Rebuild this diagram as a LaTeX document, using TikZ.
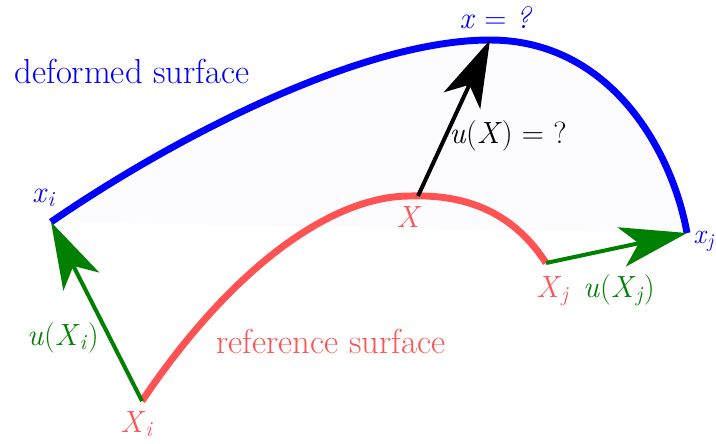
\documentclass[tikz,border=0pt]{standalone}
\usepackage{fontspec}
\usetikzlibrary{arrows.meta}
\definecolor{defblue}{RGB}{0,0,255}
\definecolor{refred}{RGB}{255,82,82}
\definecolor{dispgreen}{RGB}{0,128,0}
\newcommand{\iv}[1]{\textit{#1}}
\begin{document}
\begin{tikzpicture}[
    x=0.75pt, y=-0.75pt,
    font=\rmfamily\fontsize{23}{28}\selectfont,
    surf/.style={line width=5.2pt},
    disp/.style={line width=3pt, -{Stealth[length=50pt, width=30pt, inset=13pt]}},
    lbl/.style={anchor=base, inner sep=0pt},
    title/.style={lbl, font=\rmfamily\fontsize{26}{30}\selectfont}
]
\useasboundingbox (0,0) rectangle (716,443);

% points on the deformed surface
\coordinate (xi) at (51,222);
\coordinate (xtop) at (490,40);
\coordinate (xj) at (687,233);
% points on the reference surface
\coordinate (Xi) at (142,401);
\coordinate (Xtop) at (410,196);
\coordinate (Xpt) at (418,196);
\coordinate (Xj) at (546,263);

\fill[blue!1.3] (xi) .. controls (170,140) and (360,40) .. (xtop)
    .. controls (610,40) and (672,150) .. (xj) -- cycle;
\draw[surf, defblue] (xi) .. controls (170,140) and (360,40) .. (xtop)
    .. controls (610,40) and (672,150) .. (xj);
\draw[surf, refred] (Xi) .. controls (230,270) and (330,196) .. (Xtop)
    .. controls (470,194) and (515,215) .. (Xj);

\draw[disp, dispgreen] (Xi) -- (xi);
\draw[disp, dispgreen] (Xj) -- (xj);
\draw[disp, black] (Xpt) -- (xtop);

\node[title, defblue] (def_lbl) at (132,83) {deformed surface};
\node[title, refred] (ref_lbl) at (331,353) {reference surface};
\node[lbl, defblue] (xi_lbl) at (44,202) {\iv{x}\textsubscript{\iv{i}}};
\node[lbl, defblue, anchor=base west, font=\rmfamily\fontsize{21}{25}\selectfont] (xj_lbl) at (693,243) {\iv{x}\textsubscript{\iv{j}}};
\node[lbl, defblue] (x_lbl) at (496,28) {\iv{x} = \iv{?}};
\node[lbl, refred] (X_lbl) at (409,227) {\iv{X}};
\node[lbl, refred] (Xi_lbl) at (137,432) {\iv{X}\textsubscript{\iv{i}}};
\node[lbl, refred] (Xj_lbl) at (553,297) {\iv{X}\textsubscript{\iv{j}}};
\node[lbl, black] (u_lbl) at (508,143) {\iv{u}(\iv{X}) = ?};
\node[lbl, dispgreen] (ui_lbl) at (63,345) {\iv{u}(\iv{X}\textsubscript{\iv{i}})};
\node[lbl, dispgreen] (uj_lbl) at (619,297) {\iv{u}(\iv{X}\textsubscript{\iv{j}})};
\end{tikzpicture}
\end{document}
